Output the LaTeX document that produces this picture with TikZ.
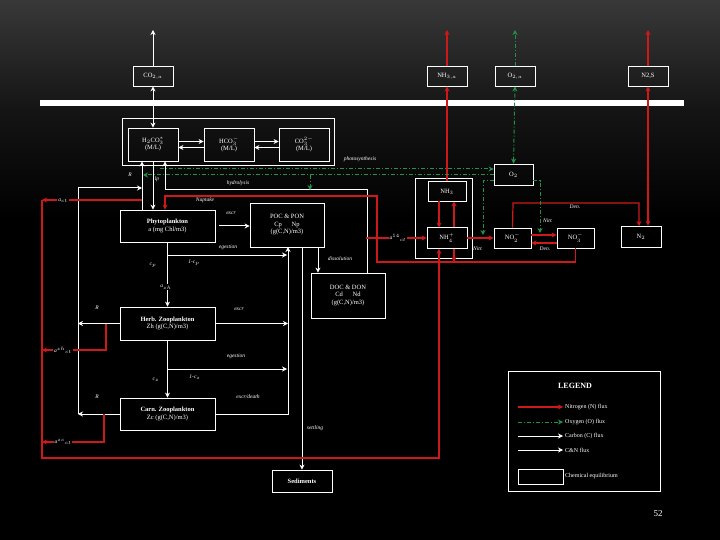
\documentclass[tikz,border=0pt]{standalone}
\usepackage{fontspec}
\setmainfont{Liberation Serif}
\usetikzlibrary{arrows.meta}
\definecolor{nred}{RGB}{205,25,25}
\definecolor{ogreen}{RGB}{35,145,75}
\begin{document}
\begin{tikzpicture}[x=1pt,y=-1pt,
  bx/.style={draw=white,line width=0.8pt,text=white,align=center,inner sep=0pt,font=\fontsize{6.5}{7.5}\selectfont},
  lb/.style={text=white,font=\fontsize{5.5}{6}\selectfont\itshape,inner sep=1pt},
  wf/.style={draw=white,line width=1pt,-{Stealth[length=5pt,width=5pt]}},
  wl/.style={draw=white,line width=1pt},
  rf/.style={draw=nred,line width=1.2pt,-{Stealth[length=5pt,width=5pt]}},
  rl/.style={draw=nred,line width=1.2pt},
  gf/.style={draw=ogreen,line width=1pt,dash pattern=on 4pt off 2pt on 1pt off 2pt,-{Stealth[length=5pt,width=5pt]}},
  gl/.style={draw=ogreen,line width=1pt,dash pattern=on 4pt off 2pt on 1pt off 2pt}]
\shade[top color=black!78!white,bottom color=black,middle color=black!92!white] (0,0) rectangle (720,220);
\fill[black] (0,220) rectangle (720,540);
\useasboundingbox (0,0) rectangle (720,540);
\fill[white] (40,100) rectangle (684,106);
% nodes
\node[bx,minimum width=40,minimum height=20] (CO2a) at (153,76) {CO$_{2,a}$};
\node[bx,minimum width=40,minimum height=20] (NH3a) at (447,76) {NH$_{3,a}$};
\node[bx,minimum width=40,minimum height=20] (O2a) at (515,76) {O$_{2,a}$};
\node[bx,minimum width=40,minimum height=20] (N2S) at (648,76) {N2,S};
\node[bx,minimum width=212,minimum height=47] (chem) at (228,141.5) {};
\node[bx,minimum width=50,minimum height=33] (H2CO3) at (153,144.5) {H$_2$CO$_3^*$\\(M/L)};
\node[bx,minimum width=50,minimum height=33] (HCO3) at (229,144.5) {HCO$_3^-$\\(M/L)};
\node[bx,minimum width=50,minimum height=33] (CO3) at (304,144.5) {CO$_3^{2-}$\\(M/L)};
\node[bx,minimum width=39,minimum height=21] (O2) at (513.5,174.5) {O$_2$};
\node[bx,minimum width=57,minimum height=80] (NH3box) at (443.5,218) {};
\node[bx,minimum width=38,minimum height=20] (NH3) at (447,191.5) {NH$_3$};
\node[bx,minimum width=40,minimum height=21] (NH4) at (447,238) {NH$_4^+$};
\node[bx,minimum width=37,minimum height=20] (NO2) at (512.5,238) {NO$_2^-$};
\node[bx,minimum width=37,minimum height=20] (NO3) at (575.5,238) {NO$_3^-$};
\node[bx,minimum width=40,minimum height=21] (N2) at (641,236.5) {N$_2$};
\node[bx,minimum width=95,minimum height=32] (Phyto) at (167.5,226) {\textbf{Phytoplankton}\\a (mg Chl/m3)};
\node[bx,minimum width=74,minimum height=44] (POC) at (287,225) {POC \& PON\\Cp\quad\ \ Np\\(g(C,N)/m3)};
\node[bx,minimum width=74,minimum height=45] (DOC) at (348,295.5) {DOC \& DON\\Cd\quad\ \ Nd\\(g(C,N)/m3)};
\node[bx,minimum width=95,minimum height=33] (Herb) at (167.5,323.5) {\textbf{Herb. Zooplankton}\\Zh (g(C,N)/m3)};
\node[bx,minimum width=95,minimum height=32] (Carn) at (167.5,414) {\textbf{Carn. Zooplankton}\\Zc (g(C,N)/m3)};
\node[bx,minimum width=60,minimum height=22] (Sed) at (302,481) {\textbf{Sediments}};
\node[bx,minimum width=152,minimum height=120] (Leg) at (584,431) {};
% coordinates
\coordinate (t1) at (153,30); \coordinate (t2) at (447,30); \coordinate (t3) at (515,30); \coordinate (t4) at (648,30);
% top exchanges
\draw[wf] (CO2a.north) -- (t1);
\draw[wl,{Stealth[length=5pt,width=5pt]}-{Stealth[length=5pt,width=5pt]}] (H2CO3.north) -- (CO2a.south);
\draw[rf] (NH3a.north) -- (t2);
\draw[rf] (NH3.north) -- (NH3a.south);
\draw[gf] (O2a.north) -- (t3);
\draw[gl,{Stealth[length=5pt,width=5pt]}-{Stealth[length=5pt,width=5pt]}] (O2.north) -- (O2a.south);
\draw[rf] (N2S.north) -- (t4);
\draw[rl,{Stealth[length=5pt,width=5pt]}-{Stealth[length=5pt,width=5pt]}] (N2.north -| N2S.south) -- (N2S.south);
% carbonate equilibrium
\draw[wf] ([yshift=3pt]H2CO3.east) -- ([yshift=3pt]HCO3.west);
\draw[wf] ([yshift=-3pt]HCO3.west) -- ([yshift=-3pt]H2CO3.east);
\draw[wf] ([yshift=3pt]HCO3.east) -- ([yshift=3pt]CO3.west);
\draw[wf] ([yshift=-3pt]CO3.west) -- ([yshift=-3pt]HCO3.east);
% photosynthesis / respiration
\draw[wf] (H2CO3.south) -- (H2CO3.south |- Phyto.north);
\coordinate (rp) at (142,210);
\draw[wf] (rp) -- (rp |- H2CO3.south);
\coordinate (hy1) at (367,190); \coordinate (hy2) at (165,190);
\draw[wf] (DOC.north -| hy1) -- (hy1) -- (hy2) -- (hy2 |- H2CO3.south);
\coordinate (z1) at (78,414); \coordinate (z2) at (78,188);
\draw[wf] (z1) -- (z2) -- (z2 -| rp);
\draw[wf] (Herb.west) -- (Herb.west -| z1);
\draw[wf] (Carn.west) -- (Carn.west -| z1);
% grazing / egestion
\coordinate (pb) at (288,247);
\draw[wf] ([xshift=4pt]Phyto.east) -- (POC.west |- Phyto.east);
\draw[wf] (Phyto.south) -- (Herb.north);
\draw[wf] (Herb.south) -- (Carn.north);
\draw[wf] (168,255) -- (287,255);
\draw[wf] (168,369) -- (287,369);
\draw[wf] (Herb.east) -- (Herb.east -| pb);
\draw[wf] (Carn.east) -- (Carn.east -| pb) -- (pb);
\draw[wf] (302,247) -- (Sed.north);
\draw[wf] (318,247) -- (DOC.north -| 318,0);
% nitrogen
\coordinate (u1) at (377,262); \coordinate (u2) at (377,196); \coordinate (u3) at (165,196);
\draw[rf] (NO3.south) -- (NO3.south |- u1) -- (u1) -- (u2) -- (u3) -- (u3 |- Phyto.north);
\draw[rf] (454,248.5) -- (454,262);
\draw[rf] (439,201.5) -- (439,227.5);
\draw[rf] (454,227.5) -- (454,201.5);
\coordinate (v1) at (42,458); \coordinate (v2) at (439,458);
\draw[rf] (42,200) -- (v1) -- (v2) -- (NH4.south -| v2);
\draw[rf] (142,200) -- (42,200);
\draw[rf] (106,323.5) -- (106,350) -- (42,350);
\draw[rf] (104,414) -- (104,442) -- (42,442);
\draw[rf] (366,238) -- (NH4.west);
\draw[rf] (NH4.east) -- (NO2.west);
\draw[rf] ([yshift=3pt]NO2.east) -- ([yshift=3pt]NO3.west);
\draw[rf] ([yshift=-5pt]NO3.west) -- ([yshift=-5pt]NO2.east);
\draw[rf] (NO2.north) -- (513,203) -- (639,203) -- (639,226);
% oxygen
\draw[gf] (160,169) -- (O2.west |- 0,169);
\draw[gf] (O2.west |- 0,175) -- (143,175);
\draw[gf] (310,175) -- (310,190);
\draw[gf] (O2.west |- 0,181) -- (483,181) -- (483,235);
\draw[gf] (O2.east |- 0,181) -- (540,181) -- (540,233);
% labels
\node[lb] at (360,159) {photosynthesis};
\node[lb] at (130,175) {R};
\node[lb] at (157,179) {lp};
\node[lb] at (238,183) {hydrolysis};
\node[lb] at (205,200) {Nuptake};
\node[lb,fill=black] at (63,201) {a$_{ct}$};
\node[lb] at (231,213) {excr};
\node[lb] at (228,247) {egestion};
\node[lb] at (153,265) {c$_p$};
\node[lb] at (194,263) {1-c$_p$};
\node[lb,fill=black] at (166,287) {a$_{zh}$};
\node[lb] at (340,259) {dissolution};
\node[lb,fill=black] at (398,238) {a$^{14}$$_{ct}$};
\node[lb] at (97,308) {R};
\node[lb] at (239,309) {excr};
\node[lb,fill=black] at (63,350) {a$^{zh}$$_{ct}$};
\node[lb] at (236,356) {egestion};
\node[lb] at (156,380) {c$_z$};
\node[lb] at (195,377) {1-c$_z$};
\node[lb] at (97,397) {R};
\node[lb] at (248,397) {excr/death};
\node[lb] at (315,428) {settling};
\node[lb,fill=black] at (63,442) {a$^{zc}$$_{ct}$};
\node[lb] at (548,221) {Nitr.};
\node[lb] at (478,249) {Nitr.};
\node[lb] at (545,249) {Den.};
\node[lb] at (575,207) {Den.};
% legend
\node[text=white,font=\fontsize{8}{9}\selectfont\bfseries] at (575,386) {LEGEND};
\draw[rf] (518,407) -- (563,407); \node[lb,anchor=west,font=\fontsize{6}{7}\selectfont] at (564,407) {Nitrogen (N) flux};
\draw[gf] (518,422) -- (563,422); \node[lb,anchor=west,font=\fontsize{6}{7}\selectfont] at (564,422) {Oxygen (O) flux};
\draw[wf] (518,436) -- (563,436); \node[lb,anchor=west,font=\fontsize{6}{7}\selectfont] at (564,436) {Carbon (C) flux};
\draw[wf] (518,450) -- (563,450); \node[lb,anchor=west,font=\fontsize{6}{7}\selectfont] at (564,450) {C\&N flux};
\node[bx,minimum width=45,minimum height=15] (legbox) at (540.5,476.5) {};
\node[lb,anchor=west,font=\fontsize{6}{7}\selectfont] at (564,476) {Chemical equilibrium};
\node[text=white,font=\fontsize{9}{10}\selectfont] at (658,514) {52};
\end{tikzpicture}
\end{document}
